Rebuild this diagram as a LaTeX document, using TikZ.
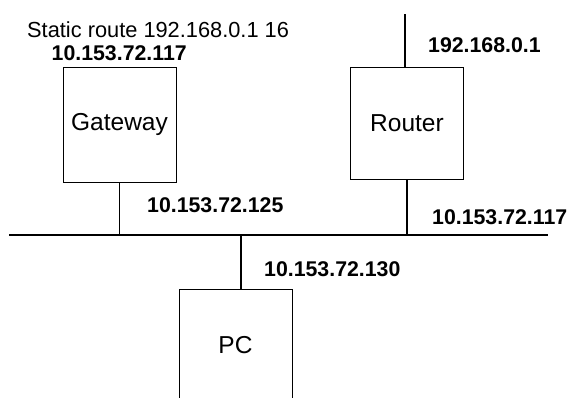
\documentclass[tikz,border=0pt]{standalone}
\usepackage{fontspec}
\setmainfont{Liberation Sans}
\begin{document}
\begin{tikzpicture}[x=1pt,y=-1pt,
  devbox/.style={draw,line width=0.9pt,minimum width=113pt,inner sep=0pt,font=\fontsize{24.5}{28}\selectfont},
  iplabel/.style={anchor=base west,inner sep=0pt,font=\fontsize{21.3}{25}\selectfont\bfseries},
  plainlabel/.style={anchor=base west,inner sep=0pt,font=\fontsize{21.8}{25}\selectfont},
  wire/.style={line width=1.1pt},
  buswire/.style={line width=1.6pt}]
\clip (0,0) rectangle (573,397);
\fill[white] (0,0) rectangle (573,397);
% devices
\node[devbox,minimum height=115pt] (gw) at (119.5,124.5) {Gateway};
\node[devbox,minimum height=112pt] (rt) at (407,123) {Router};
\node[devbox,minimum height=113pt] (pc) at (235.5,345.5) {PC};
% bus
\coordinate (busL) at (9,235);
\coordinate (busR) at (548,235);
\coordinate (rtup) at (405,14);
\coordinate (pctap) at (241,235);
\draw[buswire] (busL) -- (busR);
% connectors
\draw[wire] (gw.south) -- (gw.south |- busL);
\draw[wire] (rt.south) -- (rt.south |- busL);
\draw[wire] (rtup) -- (rtup |- rt.north);
\draw[wire] (pctap) -- (pctap |- pc.north);
% labels
\node[plainlabel] (sr) at (27,37) {Static route 192.168.0.1 16};
\node[iplabel] (gwip) at (51.5,60) {10.153.72.117};
\node[iplabel] (rtupip) at (428,52) {192.168.0.1};
\node[iplabel] (gwbus) at (147,212.5) {10.153.72.125};
\node[iplabel] (rtbus) at (432,224) {10.153.72.117};
\node[iplabel] (pcip) at (264,276) {10.153.72.130};
\end{tikzpicture}
\end{document}
